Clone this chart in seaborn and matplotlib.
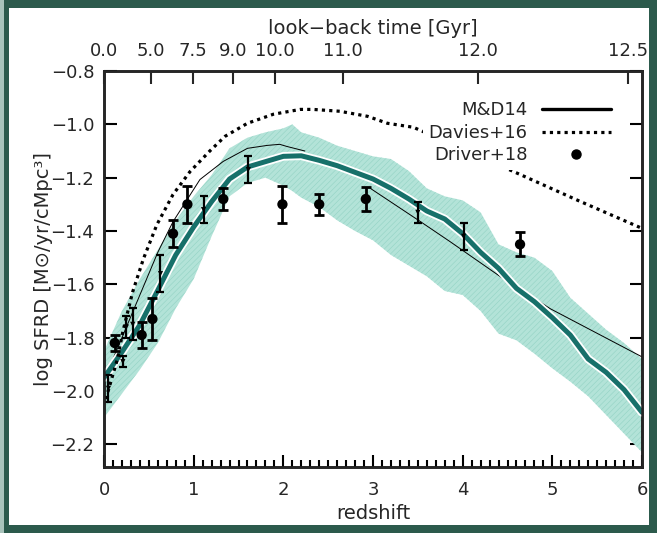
import numpy as np
import pandas as pd
import matplotlib
matplotlib.use("Agg")
import matplotlib.pyplot as plt
import matplotlib.patheffects as pe
from matplotlib.lines import Line2D
from matplotlib.patches import Rectangle
from matplotlib.ticker import MultipleLocator
import seaborn as sns

sns.set_theme(style="ticks")
plt.rcParams["font.family"] = ["DejaVu Sans"]
plt.rcParams["mathtext.fontset"] = "dejavusans"
plt.rcParams["hatch.linewidth"] = 0.4

# ---------------- data ----------------
band_z = [0.0, 0.2, 0.4, 0.6, 0.8, 1.0, 1.2, 1.4, 1.6, 1.8, 2.0, 2.1, 2.2, 2.4, 2.6,
          2.8, 3.0, 3.2, 3.4, 3.6, 3.8, 4.0, 4.2, 4.4, 4.6, 4.8, 5.0, 5.2, 5.4,
          5.6, 5.8, 6.0]
band_hi = [-1.85, -1.70, -1.58, -1.47, -1.36, -1.27, -1.19, -1.09, -1.05, -1.03,
           -1.015, -1.00, -1.03, -1.05, -1.08, -1.10, -1.12, -1.13, -1.175, -1.24,
           -1.27, -1.285, -1.33, -1.45, -1.48, -1.50, -1.55, -1.65, -1.71, -1.77,
           -1.82, -1.88]
band_lo = [-2.10, -2.01, -1.92, -1.82, -1.69, -1.58, -1.42, -1.27, -1.22, -1.20,
           -1.23, -1.25, -1.275, -1.31, -1.36, -1.40, -1.435, -1.49, -1.53, -1.57,
           -1.625, -1.64, -1.70, -1.785, -1.81, -1.86, -1.915, -1.965, -2.02, -2.09,
           -2.16, -2.23]

md_z = [0.0, 0.2, 0.4, 0.6, 0.8, 1.0, 1.2, 1.4, 1.6, 1.8, 2.0, 2.2, 2.4, 2.6, 2.8,
        3.0, 3.2, 3.4, 3.6, 3.8, 4.0, 4.2, 4.4, 4.6, 4.8, 5.0, 5.2, 5.4, 5.6, 5.8, 6.0]
md_v = [-1.95, -1.854, -1.752, -1.622, -1.49, -1.385, -1.29, -1.205, -1.16, -1.14,
        -1.12, -1.118, -1.135, -1.155, -1.18, -1.205, -1.24, -1.28, -1.325, -1.355,
        -1.41, -1.48, -1.54, -1.615, -1.665, -1.725, -1.79, -1.88, -1.93, -1.995, -2.08]

fit_z1 = [0.0, 0.2, 0.4, 0.6, 0.77, 1.07, 1.33, 1.60, 1.82, 1.96, 2.04, 2.24]
fit_v1 = [-1.96, -1.80, -1.64, -1.48, -1.365, -1.207, -1.139, -1.09, -1.079, -1.075,
          -1.083, -1.10]
fit_z2 = [2.97, 3.53, 3.86, 4.42, 4.98, 6.0]
fit_v2 = [-1.24, -1.365, -1.44, -1.571, -1.692, -1.872]

dav_z = [0.02, 0.15, 0.21, 0.32, 0.44, 0.59, 0.77, 0.96, 1.18, 1.35, 1.60, 1.89,
         2.19, 2.33, 2.63, 2.94, 3.16, 3.45, 4.64, 5.31, 6.0]
dav_v = [-2.03, -1.88, -1.778, -1.628, -1.504, -1.376, -1.263, -1.177, -1.10, -1.045,
         -0.996, -0.962, -0.944, -0.944, -0.951, -0.97, -0.996, -1.011, -1.188,
         -1.289, -1.39]

drv_z = [0.12, 0.42, 0.54, 0.77, 0.93, 1.33, 1.99, 2.40, 2.92, 4.64]
drv_v = [-1.82, -1.79, -1.73, -1.41, -1.30, -1.28, -1.30, -1.30, -1.28, -1.45]
drv_e = [0.03, 0.05, 0.08, 0.05, 0.07, 0.04, 0.07, 0.04, 0.045, 0.045]

oth_z = [0.05, 0.21, 0.25, 0.32, 0.63, 1.11, 1.61, 3.50, 4.01]
oth_v = [-1.99, -1.89, -1.76, -1.75, -1.56, -1.32, -1.17, -1.33, -1.42]
oth_e = [0.05, 0.02, 0.04, 0.06, 0.07, 0.05, 0.05, 0.04, 0.05]

ytick_vals = [-0.8, -1.0, -1.2, -1.4, -1.6, -1.8, -2.0, -2.2]
ytick_labels = ["\u22120.8", "\u22121.0", "\u22121.2", "\u22121.4", "\u22121.6",
                "\u22121.8", "\u22122.0", "\u22122.2"]
xtick_vals = [0, 1, 2, 3, 4, 5, 6]
lbt_z = [0.0, 0.52, 0.99, 1.44, 1.91, 2.66, 4.17, 5.84]
lbt_labels = ["0.0", "5.0", "7.5", "9.0", "10.0", "11.0", "12.0", "12.5"]
legend_labels = ["M&D14", "Davies+16", "Driver+18"]

TEAL = "#17706a"
FS = 13
TXT = "#262626"

# ---------------- figure ----------------
W, H = 657, 533
fig = plt.figure(figsize=(W / 100, H / 100), dpi=100)
fig.patch.set_facecolor("#2c5a4c")
fig.patches.append(Rectangle((0, 0), 4 / W, 1, transform=fig.transFigure,
                             facecolor="#a9c3bb", edgecolor="none", zorder=-2))
fig.patches.append(Rectangle((9 / W, 8 / H), (649 - 9) / W, (525 - 8) / H,
                             transform=fig.transFigure, facecolor="white",
                             edgecolor="none", zorder=-1))

ax = fig.add_axes([104 / W, 1 - 467 / H, (642 - 104) / W, (467 - 71) / H])
ax.set_facecolor("none")

ax.fill_between(band_z, band_lo, band_hi, facecolor="#b3e3d8", edgecolor="#93d3c4",
                hatch="//////", linewidth=0, zorder=1)

sns.lineplot(x=fit_z1, y=fit_v1, color="black", lw=0.7, ax=ax, zorder=2)
sns.lineplot(x=fit_z2, y=fit_v2, color="black", lw=0.7, ax=ax, zorder=2)

sns.lineplot(x=md_z, y=md_v, color=TEAL, lw=3.6, ax=ax, zorder=3,
             path_effects=[pe.Stroke(linewidth=6.2, foreground="white"), pe.Normal()])

ax.errorbar(oth_z, oth_v, yerr=oth_e, fmt="none", ecolor="black", elinewidth=1.6,
            capsize=3, capthick=1.6, zorder=4)
sns.scatterplot(x=oth_z, y=oth_v, color="black", marker="v", s=14, edgecolor="none",
                ax=ax, zorder=4)

ax.errorbar(drv_z, drv_v, yerr=drv_e, fmt="none", ecolor="black", elinewidth=2,
            capsize=3.5, capthick=2, zorder=5)
sns.scatterplot(x=drv_z, y=drv_v, color="black", s=55, edgecolor="none", ax=ax,
                zorder=5)

sns.lineplot(x=dav_z, y=dav_v, color="black", lw=2.3, ax=ax, zorder=6,
             linestyle=(0, (1, 1.3)))

ax.set_xlim(0, 6)
ax.set_ylim(-2.285, -0.8)
ax.set_xticks(xtick_vals)
ax.set_xticklabels([str(v) for v in xtick_vals])
ax.set_yticks(ytick_vals)
ax.set_yticklabels(ytick_labels)
ax.xaxis.set_minor_locator(MultipleLocator(0.1))
ax.yaxis.set_minor_locator(MultipleLocator(0.05))
ax.tick_params(which="both", direction="in", top=False, right=True, width=1.5,
               colors="black", labelcolor=TXT, labelsize=FS, pad=7)
ax.tick_params(axis="x", which="major", pad=10)
ax.tick_params(which="major", length=9)
ax.tick_params(which="minor", length=5)
for s in ax.spines.values():
    s.set_linewidth(1.8)
    s.set_color("black")
ax.set_xlabel("redshift", fontsize=14, labelpad=4, color=TXT)
ax.set_ylabel("log SFRD [M\u2299/yr/cMpc\u00b3]", fontsize=14, labelpad=-2,
              color=TXT)

ax2 = ax.twiny()
ax2.set_xlim(0, 6)
ax2.set_xticks(lbt_z)
ax2.set_xticklabels(lbt_labels)
ax2.minorticks_off()
ax2.tick_params(direction="in", length=9, width=1.5, labelsize=FS, labelcolor=TXT,
                pad=8)
for s in ax2.spines.values():
    s.set_linewidth(1.8)
ax2.set_xlabel("look\u2212back time [Gyr]", fontsize=14, labelpad=6, color=TXT)

handles = [Line2D([], [], color="black", lw=2.4),
           Line2D([], [], color="black", lw=2.3, linestyle=(0, (1, 1.3))),
           Line2D([], [], color="black", marker="o", ls="none", ms=6.5)]
leg = ax.legend(handles, legend_labels, loc="upper right",
                bbox_to_anchor=((616 - 104) / 538, (467 - 96) / 396),
                markerfirst=False, frameon=True, fontsize=FS, handlelength=3.8,
                handletextpad=0.8, labelspacing=0.25, borderpad=0.3,
                borderaxespad=0, fancybox=False)
leg.get_frame().set_facecolor("white")
leg.get_frame().set_edgecolor("none")
leg.get_frame().set_alpha(1)
leg.set_zorder(10)
for t in leg.get_texts():
    t.set_color(TXT)

fig.savefig("out.png", dpi=100, facecolor=fig.get_facecolor())
